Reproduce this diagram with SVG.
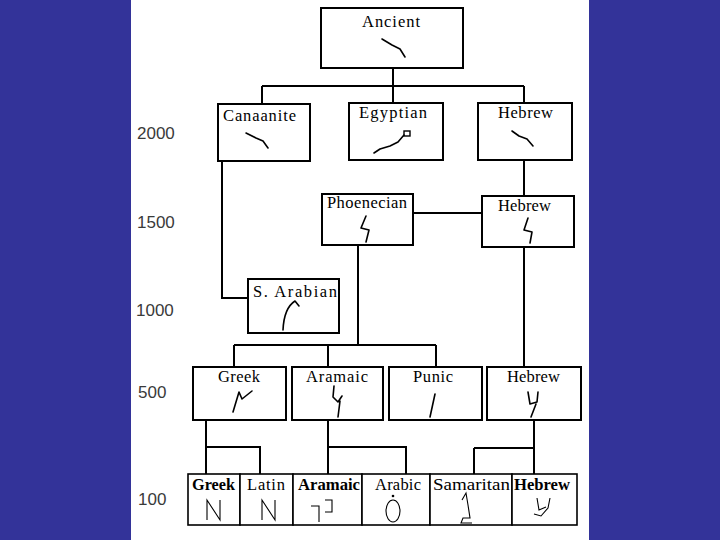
<svg xmlns="http://www.w3.org/2000/svg" width="720" height="540" viewBox="0 0 720 540">
<style>
.box{fill:#fff;stroke:#000;stroke-width:2}
.cell{fill:#fff;stroke:#000;stroke-width:1.6}
.lbl{font-family:"Liberation Serif","Times New Roman",serif;font-size:16.5px;fill:#000}
.b{font-weight:bold}
.yr{font-family:"Liberation Sans",Arial,sans-serif;font-size:17px;fill:#3a3a3a}
.con{fill:none;stroke:#000;stroke-width:2}
.g{fill:none;stroke:#000;stroke-width:1.6;stroke-linejoin:round;stroke-linecap:round}
.gt{fill:none;stroke:#000;stroke-width:1.1}
</style>
<rect x="0" y="0" width="720" height="540" fill="#333399"/>
<rect x="131" y="0" width="458" height="540" fill="#fff"/>

<g id="years">
<text class="yr" x="137" y="139">2000</text>
<text class="yr" x="137" y="228">1500</text>
<text class="yr" x="136" y="316">1000</text>
<text class="yr" x="138" y="398">500</text>
<text class="yr" x="138" y="505">100</text>
</g>

<g id="connectors">
<path class="con" d="M393,68 V86 M262,86 H524 M262,86 V104 M393,86 V103 M524,86 V103"/>
<path class="con" d="M222,161 V298 H248"/>
<path class="con" d="M524,160 V196 M413,213 H482"/>
<path class="con" d="M358,245 V345 M234,345 H436 M234,345 V367 M328,345 V367 M436,345 V367"/>
<path class="con" d="M524,247 V367"/>
<path class="con" d="M206,420 V474 M206,447 H260 V474"/>
<path class="con" d="M328,420 V474 M328,447 H406 V474"/>
<path class="con" d="M534,420 V474 M474,448 H534 M474,448 V474"/>
</g>

<g id="ancient">
<rect class="box" x="321" y="8" width="142" height="60"/>
<text class="lbl" x="362" y="27" textLength="58" lengthAdjust="spacing">Ancient</text>
<path class="g" d="M382,39 L392,45 L400,49 L405,57"/>
</g>

<g id="canaanite">
<rect class="box" x="218" y="104" width="92" height="57"/>
<text class="lbl" x="223" y="121" textLength="73" lengthAdjust="spacing">Canaanite</text>
<path class="g" d="M246,133 L256,138 L263,141 L268,148"/>
</g>

<g id="egyptian">
<rect class="box" x="349" y="103" width="94" height="57"/>
<text class="lbl" x="359" y="118" textLength="68" lengthAdjust="spacing">Egyptian</text>
<path class="g" d="M374,153 L380,149 L390,146 L398,142 L404,135"/>
<rect x="404" y="131" width="6" height="5" fill="none" stroke="#000" stroke-width="1.4"/>
</g>

<g id="hebrew-2000">
<rect class="box" x="478" y="103" width="94" height="57"/>
<text class="lbl" x="498" y="118" textLength="55" lengthAdjust="spacing">Hebrew</text>
<path class="g" d="M512,131 L519,136 L527,139 L533,146"/>
</g>

<g id="phoenician">
<rect class="box" x="322" y="194" width="91" height="51"/>
<text class="lbl" x="327" y="208" textLength="80" lengthAdjust="spacing">Phoenecian</text>
<path class="g" d="M366,216 L361,228 L369,230 L366,242"/>
</g>

<g id="hebrew-1500">
<rect class="box" x="482" y="196" width="92" height="51"/>
<text class="lbl" x="498" y="211" textLength="53" lengthAdjust="spacing">Hebrew</text>
<path class="g" d="M528,218 L524,230 L532,232 L530,243"/>
</g>

<g id="s-arabian">
<rect class="box" x="248" y="279" width="91" height="54"/>
<text class="lbl" x="253" y="297" textLength="84" lengthAdjust="spacing">S. Arabian</text>
<path class="g" d="M283,330 Q284,308 295,301 L299,306"/>
</g>

<g id="greek-500">
<rect class="box" x="193" y="367" width="93" height="53"/>
<text class="lbl" x="218" y="382" textLength="42" lengthAdjust="spacing">Greek</text>
<path class="g" d="M233,412 L239,392 L242,399 L252,391"/>
</g>

<g id="aramaic-500">
<rect class="box" x="292" y="367" width="91" height="53"/>
<text class="lbl" x="306" y="382" textLength="62" lengthAdjust="spacing">Aramaic</text>
<path class="g" d="M334,386 L333,397 L338,402 L342,396 M340,401 L338,417"/>
</g>

<g id="punic">
<rect class="box" x="389" y="367" width="93" height="53"/>
<text class="lbl" x="413" y="382" textLength="40" lengthAdjust="spacing">Punic</text>
<path class="g" d="M435,394 L430,417"/>
</g>

<g id="hebrew-500">
<rect class="box" x="487" y="367" width="94" height="53"/>
<text class="lbl" x="507" y="382" textLength="53" lengthAdjust="spacing">Hebrew</text>
<path class="g" d="M528,392 L530,404 L537,402 L538,392 M536,404 L531,417"/>
</g>

<g id="greek-100">
<rect class="cell" x="188" y="474" width="52" height="51"/>
<text class="lbl b" x="192" y="490" textLength="43" lengthAdjust="spacingAndGlyphs">Greek</text>
<path class="gt" d="M207,520 V500 L220,520 V500"/>
</g>
<g id="latin-100">
<rect class="cell" x="240" y="474" width="53" height="51"/>
<text class="lbl" x="247" y="490" textLength="38" lengthAdjust="spacing">Latin</text>
<path class="gt" d="M262,520 V500 L275,520 V500"/>
</g>
<g id="aramaic-100">
<rect class="cell" x="293" y="474" width="69" height="51"/>
<text class="lbl b" x="298" y="490" textLength="62" lengthAdjust="spacingAndGlyphs">Aramaic</text>
<path class="gt" d="M311,506 H319 V522 M325,500 H332 V512 H325"/>
</g>
<g id="arabic-100">
<rect class="cell" x="362" y="474" width="68" height="51"/>
<text class="lbl" x="375" y="490" textLength="46" lengthAdjust="spacing">Arabic</text>
<ellipse cx="393" cy="511" rx="7" ry="11" fill="none" stroke="#000" stroke-width="1.1"/>
<circle cx="393" cy="496" r="1.3" fill="#000"/>
</g>
<g id="samaritan-100">
<rect class="cell" x="430" y="474" width="82" height="51"/>
<text class="lbl" x="433" y="490" textLength="77" lengthAdjust="spacingAndGlyphs">Samaritan</text>
<path class="gt" d="M462,500 L466,493 L468,505 L470,518 H463 L461,523 H472"/>
</g>
<g id="hebrew-100">
<rect class="cell" x="512" y="474" width="65" height="51"/>
<text class="lbl b" x="514" y="490" textLength="56" lengthAdjust="spacingAndGlyphs">Hebrew</text>
<path class="gt" d="M537,498 L539,510 L546,507 M550,498 L548,508 L541,516 L534,514"/>
</g>
</svg>
